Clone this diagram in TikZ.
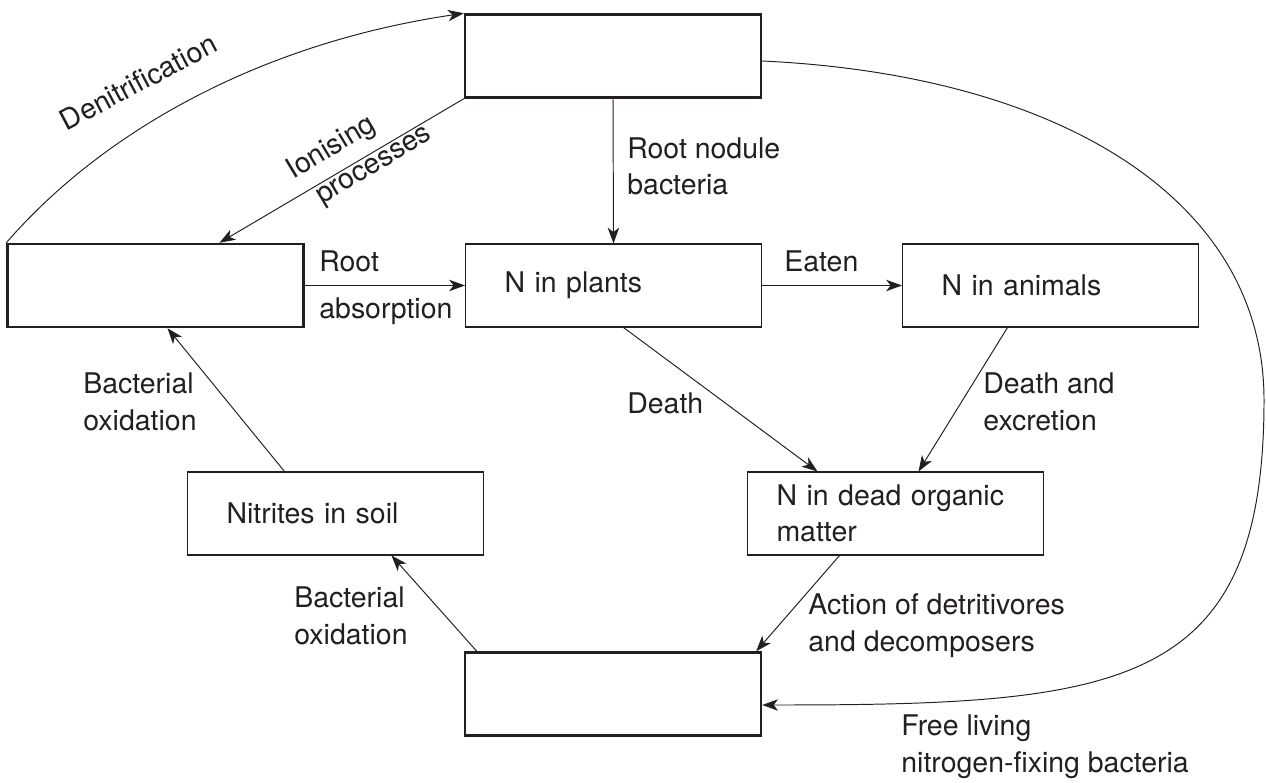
\documentclass[tikz,border=0pt]{standalone}
\usepackage{fontspec}
\setmainfont{TeX Gyre Heros}
\usetikzlibrary{arrows.meta}
\definecolor{ink}{HTML}{231F20}

\begin{document}
\begin{tikzpicture}[x=0.02cm,y=-0.02cm,
  every node/.style={text=ink, font=\fontsize{16.2}{20.5}\selectfont},
  box/.style={draw=ink, line width=0.6pt, minimum width=5.92cm, minimum height=1.66cm,
    inner xsep=0.78cm, text width=4.36cm, align=left},
  pool/.style={box, line width=1.4pt},
  flow/.style={draw=ink, line width=0.55pt, -{Stealth[length=9pt,width=6.5pt,inset=2.5pt]}},
  lbl/.style={inner sep=0pt, anchor=base west, align=left}]
\useasboundingbox (0,0) rectangle (1266,783);

\node[pool] (air) at (613,56) {};
\node[pool] (nitrates) at (155.5,285.5) {};
\node[box] (plants) at (613.5,285.5) {N in plants};
\node[box] (animals) at (1050.5,285.5) {N in animals};
\node[box] (nitrites) at (335.5,513.5) {Nitrites in soil};
\node[box, inner xsep=0.58cm, text width=4.76cm] (dead) at (895.5,513.5) {N in dead organic\\matter};
\node[pool] (ammonium) at (613,694) {};

\draw[flow] (nitrates.north west) .. controls (104,130) and (262,43) .. (air.north west);
\draw[flow] (air.south west) -- ([xshift=1.28cm]nitrates.north);
\draw[flow] (air.south) -- (plants.north);
\draw[flow] (nitrates.east) -- (plants.west);
\draw[flow] (plants.east) -- (animals.west);
\draw[flow] ([xshift=0.2cm]plants.south) -- ([xshift=-1.56cm]dead.north);
\draw[flow] ([xshift=-0.86cm]animals.south) -- ([xshift=0.46cm]dead.north);
\draw[flow] ([xshift=-1.12cm]dead.south) -- ([xshift=-0.12cm]ammonium.north east);
\draw[flow] ([xshift=0.26cm]ammonium.north west) -- ([xshift=1.12cm]nitrites.south);
\draw[flow] ([xshift=-1.02cm]nitrites.north) -- ([xshift=0.24cm]nitrates.south);
\draw[flow] ([yshift=-0.1cm]air.east) .. controls (1061,75) and (1264,200) .. (1264,400)
  .. controls (1264,690) and (1121,705) .. ([yshift=-0.22cm]ammonium.east);

\node[lbl, anchor=base, rotate=28] (denitlbl) at (143,91) {Denitrification};
\node[lbl, rotate=31] (ionlbl) at (311.5,211) {Ionising\\\hspace*{0.24cm}processes};
\node[lbl] (nodulelbl) at (627,195) {Root nodule\\bacteria};
\node[lbl] (rootlbl) at (319,272) {Root};
\node[lbl] (absorblbl) at (319,319) {absorption};
\node[lbl] (eatenlbl) at (784,272) {Eaten};
\node[lbl] (deathlbl) at (627,413) {Death};
\node[lbl] (excretelbl) at (983,430) {Death and\\excretion};
\node[lbl] (oxidlbl) at (83,430) {Bacterial\\oxidation};
\node[lbl] (nitrifylbl) at (294,644) {Bacterial\\oxidation};
\node[lbl] (decomplbl) at (808,651) {Action of detritivores\\and decomposers};
\node[lbl] (fixlbl) at (901,772) {Free living\\nitrogen-fixing bacteria};
\end{tikzpicture}
\end{document}
